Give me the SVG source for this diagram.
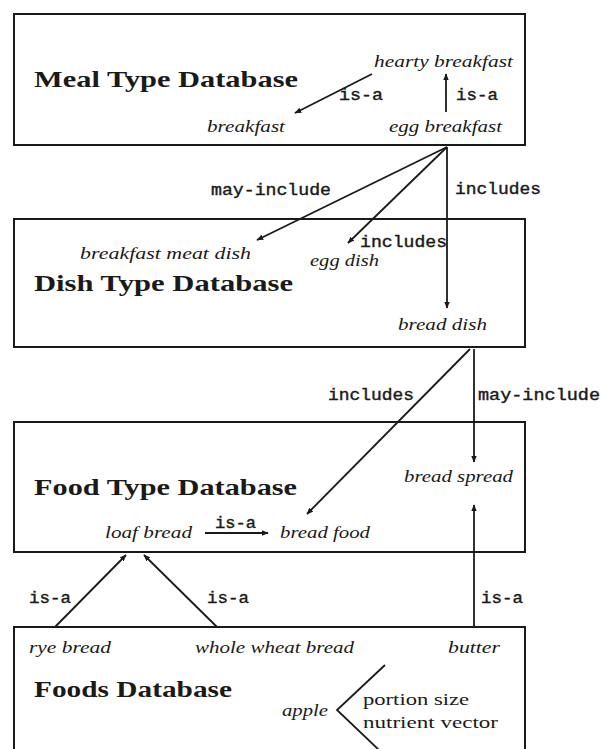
<svg xmlns="http://www.w3.org/2000/svg" width="601" height="749" viewBox="0 0 601 749">
  <style>
    .box { fill: none; stroke: #1a1a1a; stroke-width: 2; }
    .title { font-family: "Liberation Serif", "DejaVu Serif", serif; font-weight: bold; font-size: 24px; fill: #1a1a1a; }
    .item { font-family: "Liberation Serif", "DejaVu Serif", serif; font-style: italic; font-size: 17px; fill: #1a1a1a; }
    .rel { font-family: "Liberation Mono", "DejaVu Sans Mono", monospace; font-size: 16px; fill: #1a1a1a; stroke: #1a1a1a; stroke-width: 0.4; }
    .plain { font-family: "Liberation Serif", "DejaVu Serif", serif; font-size: 17px; fill: #1a1a1a; }
    .edge { fill: none; stroke: #1a1a1a; stroke-width: 1.8; }
  </style>
  <defs>
    <marker id="head" viewBox="0 0 10 10" refX="9" refY="5" markerWidth="7" markerHeight="7" markerUnits="userSpaceOnUse" orient="auto">
      <path d="M0,1 L10,5 L0,9 Z" fill="#1a1a1a"/>
    </marker>
  </defs>
  <rect width="601" height="749" fill="#ffffff"/>

  <!-- Meal type database -->
  <g id="meal-db">
    <rect class="box" x="14" y="14" width="511" height="131"/>
    <text class="title" x="34" y="87" textLength="264" lengthAdjust="spacingAndGlyphs">Meal Type Database</text>
    <text class="item" x="374" y="67" textLength="139" lengthAdjust="spacingAndGlyphs">hearty breakfast</text>
    <text class="item" x="207" y="132" textLength="78" lengthAdjust="spacingAndGlyphs">breakfast</text>
    <text class="item" x="389" y="132" textLength="113" lengthAdjust="spacingAndGlyphs">egg breakfast</text>
  </g>

  <!-- Dish type database -->
  <g id="dish-db">
    <rect class="box" x="14" y="219" width="511" height="128"/>
    <text class="title" x="34" y="291" textLength="259" lengthAdjust="spacingAndGlyphs">Dish Type Database</text>
    <text class="item" x="80" y="259" textLength="171" lengthAdjust="spacingAndGlyphs">breakfast meat dish</text>
    <text class="item" x="310" y="266" textLength="69" lengthAdjust="spacingAndGlyphs">egg dish</text>
    <text class="item" x="398" y="330" textLength="89" lengthAdjust="spacingAndGlyphs">bread dish</text>
  </g>

  <!-- Food type database -->
  <g id="food-db">
    <rect class="box" x="14" y="422" width="511" height="130"/>
    <text class="title" x="34" y="495" textLength="263" lengthAdjust="spacingAndGlyphs">Food Type Database</text>
    <text class="item" x="404" y="482" textLength="109" lengthAdjust="spacingAndGlyphs">bread spread</text>
    <text class="item" x="105" y="538" textLength="87" lengthAdjust="spacingAndGlyphs">loaf bread</text>
    <text class="item" x="280" y="538" textLength="90" lengthAdjust="spacingAndGlyphs">bread food</text>
  </g>

  <!-- Foods database (box runs past the bottom edge) -->
  <g id="foods-db">
    <path class="box" d="M14,752 L14,627 L525,627 L525,752"/>
    <text class="title" x="34" y="697" textLength="198" lengthAdjust="spacingAndGlyphs">Foods Database</text>
    <text class="item" x="29" y="653" textLength="82" lengthAdjust="spacingAndGlyphs">rye bread</text>
    <text class="item" x="195" y="653" textLength="159" lengthAdjust="spacingAndGlyphs">whole wheat bread</text>
    <text class="item" x="448" y="653" textLength="52" lengthAdjust="spacingAndGlyphs">butter</text>
    <text class="item" x="282" y="716" textLength="46" lengthAdjust="spacingAndGlyphs">apple</text>
    <polyline class="edge" points="385,665 337,710 379,750"/>
    <text class="plain" x="363" y="705" textLength="106" lengthAdjust="spacingAndGlyphs">portion size</text>
    <text class="plain" x="363" y="728" textLength="135" lengthAdjust="spacingAndGlyphs">nutrient vector</text>
  </g>

  <!-- Relations between entries -->
  <g id="connectors">
    <!-- inside meal type database -->
    <line class="edge" x1="372" y1="74" x2="295" y2="113" marker-end="url(#head)"/>
    <text class="rel" x="339" y="100" textLength="44" lengthAdjust="spacingAndGlyphs">is-a</text>
    <line class="edge" x1="446" y1="112" x2="446" y2="74" marker-end="url(#head)"/>
    <text class="rel" x="456" y="100" textLength="42" lengthAdjust="spacingAndGlyphs">is-a</text>

    <!-- egg breakfast to dishes -->
    <line class="edge" x1="447" y1="147" x2="257" y2="240" marker-end="url(#head)"/>
    <line class="edge" x1="447" y1="147" x2="348" y2="243" marker-end="url(#head)"/>
    <line class="edge" x1="447" y1="147" x2="447" y2="308" marker-end="url(#head)"/>
    <text class="rel" x="211" y="195" textLength="120" lengthAdjust="spacingAndGlyphs">may-include</text>
    <text class="rel" x="455" y="194" textLength="86" lengthAdjust="spacingAndGlyphs">includes</text>
    <text class="rel" x="360" y="247" textLength="87" lengthAdjust="spacingAndGlyphs">includes</text>

    <!-- bread dish to foods -->
    <line class="edge" x1="470" y1="349" x2="307" y2="514" marker-end="url(#head)"/>
    <line class="edge" x1="474" y1="349" x2="474" y2="462" marker-end="url(#head)"/>
    <text class="rel" x="328" y="400" textLength="86" lengthAdjust="spacingAndGlyphs">includes</text>
    <text class="rel" x="478" y="400" textLength="122" lengthAdjust="spacingAndGlyphs">may-include</text>

    <!-- inside food type database -->
    <line class="edge" x1="205" y1="533" x2="268" y2="533" marker-end="url(#head)"/>
    <text class="rel" x="215" y="528" textLength="41" lengthAdjust="spacingAndGlyphs">is-a</text>

    <!-- foods to food types -->
    <line class="edge" x1="55" y1="627" x2="126" y2="555" marker-end="url(#head)"/>
    <line class="edge" x1="217" y1="627" x2="144" y2="555" marker-end="url(#head)"/>
    <line class="edge" x1="474" y1="627" x2="474" y2="505" marker-end="url(#head)"/>
    <text class="rel" x="29" y="603" textLength="42" lengthAdjust="spacingAndGlyphs">is-a</text>
    <text class="rel" x="207" y="603" textLength="42" lengthAdjust="spacingAndGlyphs">is-a</text>
    <text class="rel" x="481" y="603" textLength="42" lengthAdjust="spacingAndGlyphs">is-a</text>
  </g>
</svg>
